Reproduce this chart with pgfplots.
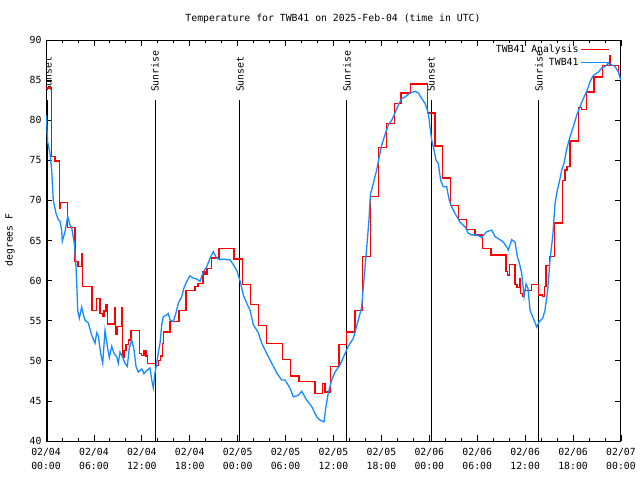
\documentclass[border=0pt]{standalone}
\usepackage{fontspec}
\setmainfont{DejaVu Sans Mono}
\usepackage{pgfplots}
\pgfplotsset{compat=1.18}
\definecolor{obsblue}{RGB}{20,140,255}
\newcommand{\gfont}{\fontsize{9.8}{14}\selectfont}
\begin{document}
\begin{tikzpicture}
\useasboundingbox (0pt,0pt) rectangle (640pt,480pt);
\fill[white] (0pt,0pt) rectangle (640pt,480pt);
\begin{axis}[
    at={(46pt,39pt)}, anchor=south west,
    scale only axis, width=575pt, height=401pt,
    xmin=0, xmax=72, ymin=40, ymax=90,
    xtick={0,6,...,72}, minor x tick num=2,
    ytick={40,45,...,90},
    xticklabels={02/04\\00:00,02/04\\06:00,02/04\\12:00,02/04\\18:00,
                 02/05\\00:00,02/05\\06:00,02/05\\12:00,02/05\\18:00,
                 02/06\\00:00,02/06\\06:00,02/06\\12:00,02/06\\18:00,
                 02/07\\00:00},
    tick label style={font=\gfont},
    xticklabel style={align=center, yshift=-4pt},
    yticklabel style={xshift=-1pt},
    /pgf/number format/assume math mode=true,
    tick align=inside,
    major tick length=6pt, minor tick length=3pt,
    tick style={black, line width=0.8pt},
    axis line style={line width=1pt},
    legend style={at={(1,1)}, anchor=north east, xshift=-11pt, yshift=-3pt,
                  draw=none, fill=none, font=\gfont, inner sep=0pt,
                  row sep=0pt},
    legend cell align=right,
    legend plot pos=right,
    legend image code/.code={\draw[#1] (0pt,0pt) -- (28pt,0pt);},
]
% sunrise / sunset markers
\addplot[black, line width=1pt, forget plot] coordinates {(0.25,40) (0.25,82.5)};
\addplot[black, line width=1pt, forget plot] coordinates {(13.65,40) (13.65,82.5)};
\addplot[black, line width=1pt, forget plot] coordinates {(24.29,40) (24.29,82.5)};
\addplot[black, line width=1pt, forget plot] coordinates {(37.69,40) (37.69,82.5)};
\addplot[black, line width=1pt, forget plot] coordinates {(48.21,40) (48.21,82.5)};
\addplot[black, line width=1pt, forget plot] coordinates {(61.73,40) (61.73,82.5)};
\node[rotate=90, anchor=west, inner sep=0pt, font=\gfont] at (axis cs:0.25,83.5) {Sunset};
\node[rotate=90, anchor=west, inner sep=0pt, font=\gfont] at (axis cs:13.65,83.5) {Sunrise};
\node[rotate=90, anchor=west, inner sep=0pt, font=\gfont] at (axis cs:24.29,83.5) {Sunset};
\node[rotate=90, anchor=west, inner sep=0pt, font=\gfont] at (axis cs:37.69,83.5) {Sunrise};
\node[rotate=90, anchor=west, inner sep=0pt, font=\gfont] at (axis cs:48.21,83.5) {Sunset};
\node[rotate=90, anchor=west, inner sep=0pt, font=\gfont] at (axis cs:61.73,83.5) {Sunrise};

% analysis (hourly steps)
\addplot[red, line width=1.3pt, const plot] coordinates {
(0.00,84.0) (0.71,75.5) (1.13,74.9) (1.67,69.0) (1.83,69.7) (2.67,66.6)
(3.63,62.4) (4.01,61.8) (4.41,63.4) (4.57,59.3) (5.76,56.3) (6.32,57.8)
(6.76,55.9) (7.08,55.5) (7.26,56.2) (7.51,57.0) (7.68,54.6) (8.58,56.6)
(8.70,53.3) (8.89,54.3) (9.45,56.6) (9.60,50.4) (9.77,51.3) (10.02,52.0)
(10.33,52.6) (10.64,53.8) (11.68,50.9) (11.96,50.7) (12.27,51.3) (12.52,50.6)
(12.68,49.7) (13.86,49.4) (14.06,50.0) (14.36,50.6) (14.59,52.2) (14.69,53.6)
(15.53,54.9) (16.65,56.3) (17.53,58.8) (18.66,59.3) (19.03,59.6) (19.66,61.1)
(19.91,60.8) (20.16,61.5) (20.75,62.8) (21.66,64.0) (23.54,62.7) (24.63,59.5)
(25.63,57.0) (26.63,54.4) (27.59,52.2) (29.64,50.2) (30.64,48.1) (31.68,47.4)
(33.68,45.9) (34.62,47.2) (34.94,46.1) (35.65,49.3) (36.69,52.0) (37.65,53.6)
(38.69,56.3) (39.66,63.0) (40.66,70.5) (41.66,76.6) (42.66,79.6) (43.61,82.1)
(44.45,83.4) (45.67,84.5) (47.75,80.9) (48.71,76.8) (49.67,72.8) (50.68,69.4)
(51.63,67.6) (52.68,66.4) (53.72,65.7) (54.68,64.0) (55.72,63.2) (57.60,61.1)
(57.79,60.7) (58.04,62.0) (58.73,59.5) (58.98,59.1) (59.27,60.2) (59.42,58.4)
(59.67,58.0) (59.79,58.8) (60.82,59.5) (61.65,58.2) (62.17,58.0) (62.40,59.3)
(62.61,61.9) (63.02,63.0) (63.65,67.2) (64.70,72.5) (64.99,73.8) (65.24,74.2)
(65.61,77.4) (66.66,81.6) (67.08,81.3) (67.71,83.5) (68.62,85.4) (69.71,86.8)
(70.63,88.0) (70.71,86.8) (71.66,85.8) (72.00,85.8)
};
\addlegendentry{TWB41 Analysis}

% observations
\addplot[obsblue, line width=1.3pt] coordinates {
(0.05,80.6) (0.20,77.3) (0.50,75.9) (0.71,73.8) (0.91,70.0) (1.25,68.4)
(1.54,67.6) (1.75,67.4) (1.96,66.3) (2.04,64.9) (2.38,66.1) (2.72,68.0)
(3.01,66.9) (3.22,66.6) (3.54,64.7) (3.72,62.4) (3.84,59.9) (3.97,56.3)
(4.17,55.3) (4.47,56.7) (4.67,55.8) (4.88,55.1) (5.30,54.7) (5.72,53.2)
(6.14,52.2) (6.35,53.5) (6.55,53.1) (6.85,50.9) (7.10,49.7) (7.39,53.8)
(7.68,51.8) (7.93,50.4) (8.23,51.8) (8.52,50.9) (8.85,50.5) (9.05,49.7)
(9.27,51.1) (9.48,50.7) (9.89,49.7) (10.18,49.3) (10.43,51.6) (10.73,52.6)
(11.02,51.4) (11.27,49.3) (11.56,48.6) (11.98,49.0) (12.27,48.4) (12.61,48.8)
(13.02,49.1) (13.24,47.6) (13.44,46.6) (13.65,48.5) (13.86,49.7) (14.06,51.0)
(14.28,52.2) (14.49,54.5) (14.69,55.5) (15.11,55.7) (15.31,55.9) (15.53,55.1)
(15.94,54.9) (16.28,56.0) (16.57,57.2) (16.99,58.0) (17.28,59.1) (17.62,59.9)
(18.03,60.6) (18.45,60.3) (18.87,60.2) (19.28,59.9) (19.70,61.1) (20.12,61.7)
(20.54,62.8) (20.95,63.6) (21.37,62.8) (21.79,62.6) (22.20,62.7) (22.63,62.6)
(23.04,62.6) (23.45,62.0) (23.88,61.3) (24.29,60.0) (24.71,58.2) (25.13,57.2)
(25.55,56.3) (25.96,54.5) (26.58,53.5) (27.01,52.2) (27.64,50.9) (28.26,49.7)
(28.89,48.5) (29.51,47.6) (29.93,47.6) (30.55,46.6) (30.97,45.5) (31.59,45.7)
(32.02,46.2) (32.64,45.1) (33.27,44.3) (33.90,43.0) (34.31,42.6) (34.81,42.4)
(35.06,44.3) (35.35,46.0) (35.78,47.6) (36.19,48.6) (36.82,49.5) (37.44,50.9)
(37.85,51.8) (38.48,52.8) (39.11,55.1) (39.53,56.7) (39.63,58.0) (39.94,61.5)
(40.19,64.5) (40.44,67.5) (40.63,70.9) (40.78,71.3) (40.98,72.1) (41.41,73.8)
(41.74,75.5) (42.04,76.9) (42.45,78.2) (42.86,79.4) (43.29,80.0) (43.70,80.9)
(44.12,81.9) (44.54,82.7) (44.95,82.9) (45.58,83.4) (46.21,83.6) (46.62,83.4)
(47.05,82.7) (47.46,82.1) (47.87,80.9) (48.08,79.2) (48.30,77.5) (48.58,76.3)
(48.84,75.0) (49.12,74.6) (49.42,72.5) (49.75,71.7) (50.17,71.7) (50.50,70.0)
(50.80,69.2) (51.21,68.4) (51.84,67.3) (52.47,66.7) (52.88,65.9) (53.30,65.7)
(53.93,65.7) (54.55,65.4) (55.18,66.1) (55.81,66.3) (56.22,65.5) (56.85,65.1)
(57.26,64.8) (57.69,64.2) (57.89,63.8) (58.31,65.1) (58.73,64.8) (59.02,63.0)
(59.27,62.2) (59.57,60.9) (59.86,58.0) (60.11,59.6) (60.36,59.0) (60.61,56.3)
(61.02,55.3) (61.45,54.2) (61.77,54.9) (62.20,55.3) (62.48,56.3) (62.82,58.8)
(63.11,62.6) (63.45,65.5) (63.74,69.6) (64.03,71.3) (64.28,72.3) (64.58,73.8)
(64.86,74.6) (65.20,76.4) (65.61,77.9) (66.03,79.2) (66.45,80.6) (66.87,81.7)
(67.28,82.7) (67.71,83.6) (68.12,84.8) (68.54,85.6) (69.16,86.0) (69.58,86.5)
(70.00,86.7) (70.42,87.1) (70.84,86.9) (71.25,86.7) (71.67,86.0) (71.97,85.0)
};
\addlegendentry{TWB41}
\end{axis}
\node[font=\gfont] at (333pt,461pt) {Temperature for TWB41 on 2025-Feb-04 (time in UTC)};
\node[font=\gfont, rotate=90] at (10pt,240pt) {degrees F};
\end{tikzpicture}
\end{document}
